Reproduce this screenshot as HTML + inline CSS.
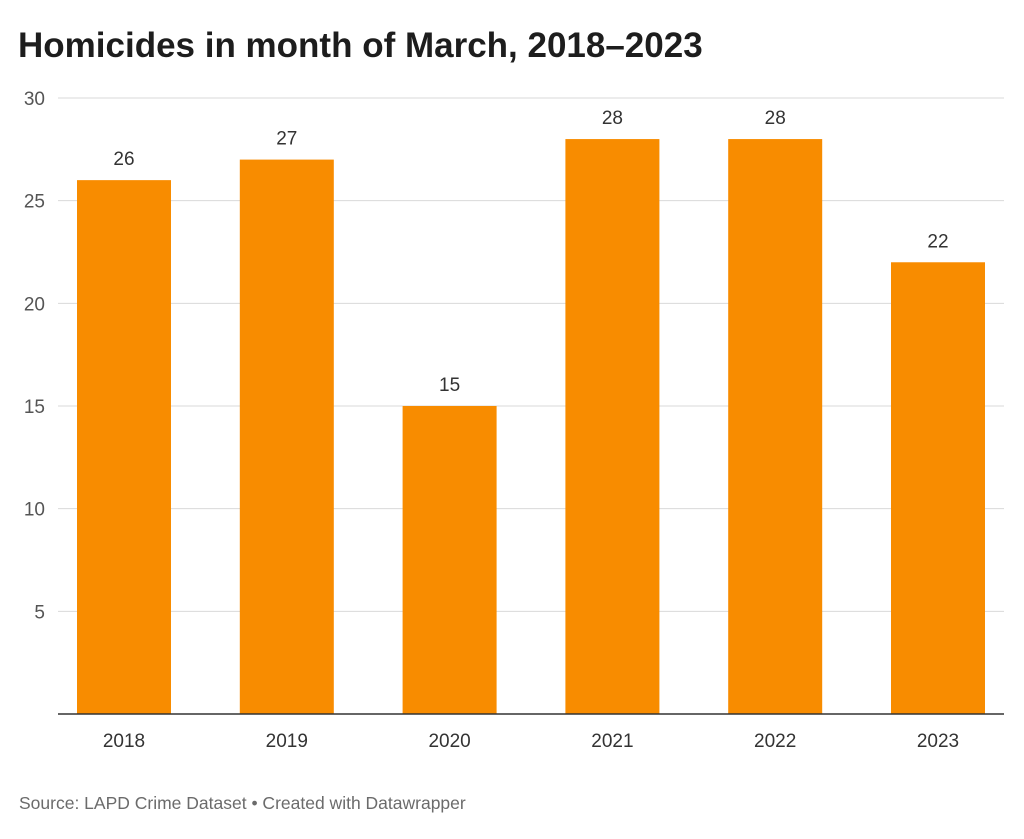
<!DOCTYPE html>
<html><head><meta charset="utf-8">
<style>
body{margin:0;background:#fff;width:1024px;height:834px;overflow:hidden;font-family:"Liberation Sans",Arial,sans-serif;}
svg text{font-family:"Liberation Sans",Arial,sans-serif;}
</style></head>
<body>
<svg id="chart" width="1024" height="834" xmlns="http://www.w3.org/2000/svg">
<text x="18" y="57" font-size="35" font-weight="bold" fill="#1d1d1d">Homicides in month of March, 2018–2023</text>
<g id="grid"></g>
<g id="bars"></g>
<text x="19" y="809" font-size="17.5" fill="#6b6b6b">Source: LAPD Crime Dataset • Created with Datawrapper</text>
</svg>
<script>
const categories = ["2018","2019","2020","2021","2022","2023"];
const values = [26,27,15,28,28,22];
const yTicks = [5,10,15,20,25,30];

const NS="http://www.w3.org/2000/svg";
const y0=714, yTop=98, yMax=30;
const y = v => y0 - (v/yMax)*(y0-yTop);
const firstCenter=124, step=162.8, barW=94;
const x = i => firstCenter + i*step;
const svg=document.getElementById('chart');
const grid=document.getElementById('grid');
const bars=document.getElementById('bars');
function mk(tag,attrs,parent){const e=document.createElementNS(NS,tag);for(const k in attrs)e.setAttribute(k,attrs[k]);parent.appendChild(e);return e;}

yTicks.forEach(t=>{
  const l=mk('line',{x1:58,x2:1004,y1:y(t),y2:y(t),stroke:'#d9d9d9','stroke-width':1},grid);
  
  
  const tx=mk('text',{x:45,y:y(t)+7,'font-size':19,fill:'#555','text-anchor':'end'},grid);
  tx.textContent=t;
  
  
});

categories.forEach((c,i)=>{
  const r=mk('rect',{x:x(i)-barW/2,y:y(values[i]),width:barW,height:y0-y(values[i]),fill:'#f88c00'},bars);
  
  
  const v=mk('text',{x:x(i),y:y(values[i])-15,'font-size':19,fill:'#333','text-anchor':'middle'},bars);
  v.textContent=values[i];
  
  
  const xl=mk('text',{x:x(i),y:747,'font-size':19,fill:'#333','text-anchor':'middle'},bars);
  xl.textContent=c;
  
  
});

const base=mk('line',{x1:58,x2:1004,y1:y0,y2:y0,stroke:'#333','stroke-width':1.5},bars);


</script>
</body></html>
